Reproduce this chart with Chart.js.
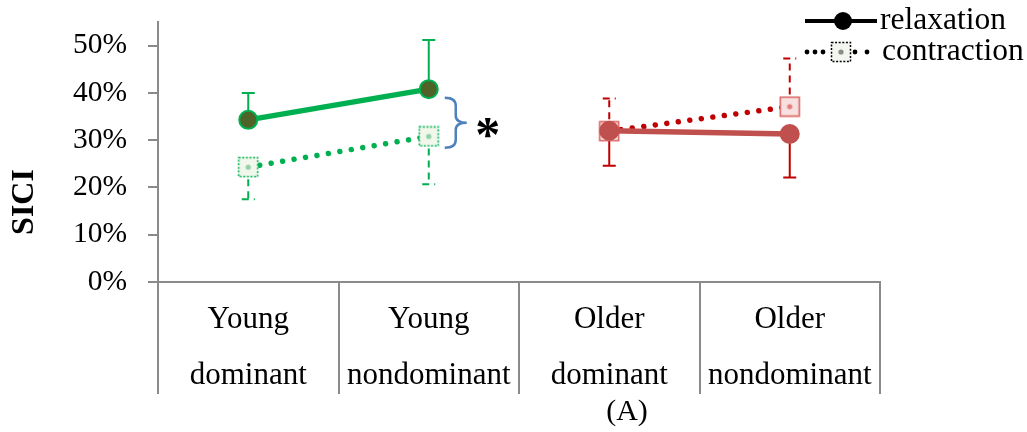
<!DOCTYPE html>
<html>
<head>
<meta charset="utf-8">
<script src="https://cdn.jsdelivr.net/npm/chart.js@4/dist/chart.umd.min.js"></script>
<style>
  body { margin: 0; background: #fff; }
  #wrap { width: 1027px; height: 432px; }
</style>
</head>
<body>
<div id="wrap"><canvas id="sici" width="1027" height="432"></canvas></div>
<script>
const categories = [["Young", "dominant"], ["Young", "nondominant"], ["Older", "dominant"], ["Older", "nondominant"]];
const yTicks = [0, 0.1, 0.2, 0.3, 0.4, 0.5];

// mean SICI
const youngRelax = [0.343, 0.408, null, null];
const youngContr = [0.243, 0.308, null, null];
const olderRelax = [null, null, 0.320, 0.313];
const olderContr = [null, null, 0.319, 0.371];

// end of each error bar (one-sided)
const youngRelaxErr = [0.400, 0.512, null, null];
const youngContrErr = [0.175, 0.207, null, null];
const olderRelaxErr = [null, null, 0.246, 0.221];
const olderContrErr = [null, null, 0.388, 0.473];

const GREEN = "#00B050";
const RED = "#C0504D";
const DARKRED = "#C00000";
const SERIF = "'Liberation Serif', 'Times New Roman', serif";

function squareIcon(border, fill, dot, dotted) {
  const c = document.createElement("canvas");
  c.width = 22;
  c.height = 22;
  const g = c.getContext("2d");
  g.fillStyle = fill;
  g.fillRect(1.5, 1.5, 19, 19);
  g.strokeStyle = border;
  g.lineWidth = 1.5;
  if (dotted) g.setLineDash([2, 1.6]);
  g.strokeRect(1.5, 1.5, 19, 19);
  g.setLineDash([]);
  g.fillStyle = dot;
  g.beginPath();
  g.arc(11, 11, 2.6, 0, Math.PI * 2);
  g.fill();
  return c;
}

const greenSquare = squareIcon(GREEN, "#F2F7EC", "#8ED1A6", true);
const redSquare = squareIcon("#D95F5C", "#F7E1E0", "#E57B7B", false);

const errorBars = {
  id: "errorBars",
  beforeDatasetsDraw(chart) {
    const ctx = chart.ctx;
    const y = chart.scales.y;
    chart.data.datasets.forEach((ds, i) => {
      const meta = chart.getDatasetMeta(i);
      ctx.save();
      ctx.strokeStyle = ds.errColor;
      ctx.lineWidth = 2;
      ctx.setLineDash(ds.errDash);
      ds.data.forEach((v, j) => {
        if (v === null) return;
        const x = meta.data[j].x;
        const y0 = y.getPixelForValue(v);
        const y1 = y.getPixelForValue(ds.err[j]);
        ctx.beginPath();
        ctx.moveTo(x, y0);
        ctx.lineTo(x, y1);
        ctx.moveTo(x - 6.5, y1);
        ctx.lineTo(x + 6.5, y1);
        ctx.stroke();
      });
      ctx.restore();
    });
  }
};

const extras = {
  id: "extras",
  afterDraw(chart) {
    const ctx = chart.ctx;
    const x = chart.scales.x;
    const y = chart.scales.y;
    ctx.save();

    // significance brace between the two Young nondominant means
    const bx = x.getPixelForValue(1);
    const top = y.getPixelForValue(0.39);
    const bot = y.getPixelForValue(0.284);
    const mid = (top + bot) / 2;
    ctx.strokeStyle = "#4F81BD";
    ctx.lineWidth = 2.5;
    ctx.beginPath();
    ctx.moveTo(bx + 16, top);
    ctx.quadraticCurveTo(bx + 27, top, bx + 27, top + 8);
    ctx.lineTo(bx + 27, mid - 7);
    ctx.quadraticCurveTo(bx + 27, mid, bx + 38, mid);
    ctx.quadraticCurveTo(bx + 27, mid, bx + 27, mid + 7);
    ctx.lineTo(bx + 27, bot - 8);
    ctx.quadraticCurveTo(bx + 27, bot, bx + 16, bot);
    ctx.stroke();

    ctx.fillStyle = "#000";
    ctx.font = "bold 50px " + SERIF;
    ctx.textAlign = "center";
    ctx.textBaseline = "alphabetic";
    ctx.fillText("*", bx + 59, mid + 28);

    // axis title and caption
    ctx.font = "bold 32px " + SERIF;
    ctx.textBaseline = "middle";
    ctx.save();
    ctx.translate(25, 202);
    ctx.rotate(-Math.PI / 2);
    ctx.fillText("SICI", 0, 0);
    ctx.restore();

    ctx.font = "30px " + SERIF;
    ctx.fillText("(A)", 627, 412);

    // legend
    ctx.strokeStyle = "#000";
    ctx.fillStyle = "#000";
    ctx.lineWidth = 4;
    ctx.beginPath();
    ctx.moveTo(805, 21);
    ctx.lineTo(877, 21);
    ctx.stroke();
    ctx.beginPath();
    ctx.arc(843, 21, 9, 0, Math.PI * 2);
    ctx.fill();

    [807, 815, 823, 855, 867].forEach((dx) => {
      ctx.beginPath();
      ctx.arc(dx, 52, 2.4, 0, Math.PI * 2);
      ctx.fill();
    });
    ctx.drawImage(squareIcon("#000", "#F3F6EE", "#8a8a8a", true), 830, 41, 22, 22);

    ctx.fillStyle = "#000";
    ctx.font = "31.5px " + SERIF;
    ctx.textAlign = "left";
    ctx.fillText("relaxation", 880, 21);
    ctx.fillText("contraction", 882, 52);
    ctx.restore();
  }
};

const relaxStyle = { borderWidth: 5.5, pointRadius: 9, pointBorderWidth: 2, errDash: [] };
const contrStyle = {
  borderWidth: 5.5,
  borderDash: [0.01, 11.6],
  borderCapStyle: "round",
  errDash: [7, 5]
};

function noPad(s) {
  s.paddingTop = 0;
  s.paddingBottom = 0;
  s.paddingLeft = 0;
  s.paddingRight = 0;
}

new Chart(document.getElementById("sici"), {
  type: "line",
  data: {
    labels: categories,
    datasets: [
      Object.assign({ label: "Young relaxation", data: youngRelax, err: youngRelaxErr, borderColor: GREEN,
        pointBackgroundColor: "#4F6228", pointBorderColor: GREEN, errColor: GREEN }, relaxStyle),
      Object.assign({ label: "Older relaxation", data: olderRelax, err: olderRelaxErr, borderColor: RED,
        pointBackgroundColor: RED, pointBorderColor: RED, errColor: DARKRED }, relaxStyle),
      Object.assign({ label: "Young contraction", data: youngContr, err: youngContrErr, borderColor: GREEN,
        pointStyle: greenSquare, errColor: GREEN }, contrStyle),
      Object.assign({ label: "Older contraction", data: olderContr, err: olderContrErr, borderColor: DARKRED,
        pointStyle: redSquare, errColor: DARKRED }, contrStyle)
    ]
  },
  options: {
    responsive: false,
    animation: false,
    layout: { padding: { top: 22, right: 147, bottom: 0, left: 0 } },
    plugins: { legend: { display: false }, tooltip: { enabled: false } },
    scales: {
      x: {
        offset: true,
        afterFit: (s) => { s.height = 150; noPad(s); },
        grid: { offset: true, drawOnChartArea: false, tickLength: 112, color: "#8a8a8a", lineWidth: 2 },
        border: { color: "#8a8a8a", width: 2 },
        ticks: { color: "#000", padding: -102.5, maxRotation: 0, autoSkip: false,
          font: { family: SERIF, size: 31, lineHeight: 1.806 } }
      },
      y: {
        min: 0,
        max: 0.55,
        afterFit: (s) => { s.width = 158; noPad(s); },
        afterBuildTicks: (s) => { s.ticks = yTicks.map((v) => ({ value: v })); },
        grid: { drawOnChartArea: false, tickLength: 10, color: "#8a8a8a", lineWidth: 2 },
        border: { color: "#8a8a8a", width: 2 },
        ticks: { color: "#000", padding: 21, font: { family: SERIF, size: 29.5 },
          callback: (v) => Math.round(v * 100) + "%" }
      }
    }
  },
  plugins: [errorBars, extras]
});
</script>
</body>
</html>
